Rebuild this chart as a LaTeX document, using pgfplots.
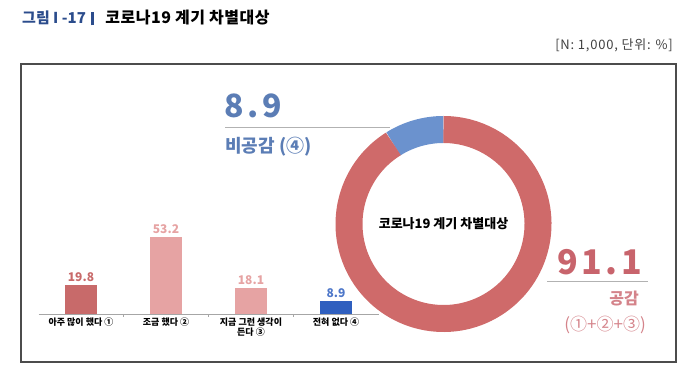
\documentclass[border=0pt]{standalone}
\usepackage{pgfplots}
\pgfplotsset{compat=1.18}
\usepackage{fontspec}
\setmainfont{Noto Sans CJK KR}
\definecolor{titleblue}{HTML}{2B4C8C}
\definecolor{barred}{HTML}{C86A6A}
\definecolor{barpink}{HTML}{E6A3A3}
\definecolor{barblue}{HTML}{2F5FBF}
\definecolor{ringred}{HTML}{CF6A6A}
\definecolor{ringblue}{HTML}{6B92CE}
\definecolor{slate}{HTML}{5B7DB5}
\definecolor{agreered}{HTML}{C8646C}
\definecolor{agreelight}{HTML}{D4838A}
\def\agree{91.1}
\def\disagree{8.9}
\begin{document}
\begin{tikzpicture}
\useasboundingbox (0pt,0pt) rectangle (700pt,385pt);
% title
\node[anchor=west, font=\fontsize{15}{18}\selectfont\bfseries, inner sep=0] at (22pt,367pt)
  {\textcolor{titleblue}{그림 I -17}\hspace{5pt}\textcolor{titleblue}{\rule[-1.5pt]{3.5pt}{13pt}}\hspace{11pt}{\fontsize{16}{18}\selectfont\addfontfeature{LetterSpace=3}코로나19 계기 차별대상}};
\node[anchor=east, font=\fontsize{13}{15}\selectfont\addfontfeature{LetterSpace=6}, text=black!75, inner sep=0] at (673pt,340pt) {[N: 1,000, 단위: \%]};
\draw[line width=1.6pt, black!70] (21pt,321pt) rectangle (676pt,23pt);

% bar chart
\begin{axis}[at={(38.5pt,71pt)}, anchor=south west, scale only axis,
  width=340pt, height=86.8pt,
  xmin=-0.5, xmax=3.5, ymin=0, ymax=60,
  axis y line=none, axis x line*=bottom,
  axis line style={black!35, line width=0.8pt, -},
  xtick={0,1,2,3},
  xticklabels={아주 많이 했다 ①, 조금 했다 ②, {지금 그런 생각이\\든다 ③}, 전혀 없다 ④},
  major tick length=0pt,
  minor xtick={0.5,1.5,2.5}, minor tick length=3pt, minor tick style={black!35},
  tick align=inside,
  xticklabel style={font=\fontsize{9}{10}\selectfont\bfseries, align=center, text=black},
  ybar, bar width=32pt, bar shift=0pt,
  nodes near coords,
  nodes near coords style={font=\fontsize{12}{14}\selectfont\bfseries,
    /pgf/number format/fixed, /pgf/number format/precision=1,
    /pgf/number format/fixed zerofill, /pgf/number format/assume math mode=true},
  clip=false]
\addplot[fill=barred, draw=none, nodes near coords style={text=barred}] coordinates {(0,19.8)};
\addplot[fill=barpink, draw=none, nodes near coords style={text=barpink}] coordinates {(1,53.2)};
\addplot[fill=barpink, draw=none, nodes near coords style={text=barpink}] coordinates {(2,18.1)};
\addplot[fill=barblue, draw=none, nodes near coords style={text=barblue!85}] coordinates {(3,8.9)};
\end{axis}

% donut
\begin{axis}[at={(443.5pt,161pt)}, anchor=center, scale only axis,
  width=216pt, height=216pt, xmin=-1, xmax=1, ymin=-1, ymax=1,
  hide axis, clip=false]
\draw[line width=27pt, ringblue] (axis cs:0,0) ++(90:94.5pt) arc[start angle=90, end angle={90+3.6*\disagree}, radius=94.5pt];
\draw[line width=27pt, ringred] (axis cs:0,0) ++({90+3.6*\disagree}:94.5pt) arc[start angle={90+3.6*\disagree}, end angle=450, radius=94.5pt];
\node[font=\fontsize{13}{15}\selectfont\bfseries] at (axis cs:0,0) {코로나19 계기 차별대상};
\end{axis}

% annotations
\draw[black!30, line width=1pt] (225pt,257pt) -- (390pt,257pt);
\node[anchor=base west, inner sep=0, text=slate, font=\fontsize{32}{36}\selectfont\bfseries\addfontfeature{LetterSpace=12}] at (224pt,267pt) {\disagree};
\node[anchor=base west, inner sep=0, text=slate, font=\fontsize{18}{20}\selectfont\bfseries] at (225pt,232pt) {비공감 (④)};
\draw[black!30, line width=1pt] (547pt,103pt) -- (648pt,103pt);
\node[anchor=base east, inner sep=0, text=agreered, font=\fontsize{34}{38}\selectfont\bfseries\addfontfeature{LetterSpace=10}] at (642pt,110pt) {\agree};
\node[anchor=base east, inner sep=0, text=agreelight, font=\fontsize{16}{18}\selectfont\bfseries] at (639pt,80pt) {공감};
\node[anchor=base east, inner sep=0, text=agreelight, font=\fontsize{17}{19}\selectfont] at (646pt,55pt) {(①+②+③)};
\end{tikzpicture}
\end{document}
